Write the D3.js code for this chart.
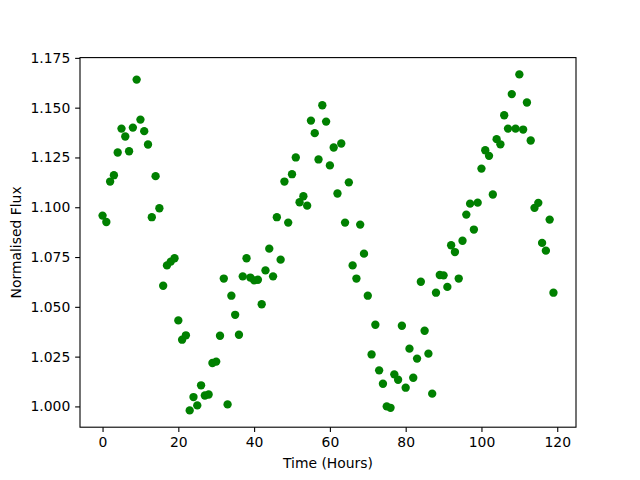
<!DOCTYPE html>
<html>
<head>
<meta charset="utf-8">
<script src="https://cdn.jsdelivr.net/npm/d3@7"></script>
<style>
  body { margin: 0; background: #fff; }
  text { font-family: "DejaVu Sans", sans-serif; }
</style>
</head>
<body>
<svg id="chart" width="640" height="480"></svg>
<script>
const hours = [
  0, 1, 2, 3, 4, 5, 6, 7, 8, 9, 10, 11, 12, 13, 14, 15, 16, 17, 18, 19,
  20, 21, 22, 23, 24, 25, 26, 27, 28, 29, 30, 31, 32, 33, 34, 35, 36, 37, 38, 39,
  40, 41, 42, 43, 44, 45, 46, 47, 48, 49, 50, 51, 52, 53, 54, 55, 56, 57, 58, 59,
  60, 61, 62, 63, 64, 65, 66, 67, 68, 69, 70, 71, 72, 73, 74, 75, 76, 77, 78, 79,
  80, 81, 82, 83, 84, 85, 86, 87, 88, 89, 90, 91, 92, 93, 94, 95, 96, 97, 98, 99,
  100, 101, 102, 103, 104, 105, 106, 107, 108, 109, 110, 111, 112, 113, 114, 115, 116, 117, 118, 119
];

const flux = [
  1.0958, 1.0926, 1.1129, 1.1161, 1.1275, 1.1395, 1.1355, 1.1281, 1.1400, 1.1641,
  1.1440, 1.1382, 1.1315, 1.0950, 1.1156, 1.0995, 1.0606, 1.0708, 1.0727, 1.0744,
  1.0432, 1.0335, 1.0357, 0.9980, 1.0047, 1.0005, 1.0106, 1.0055, 1.0060, 1.0218,
  1.0225, 1.0355, 1.0642, 1.0010, 1.0556, 1.0460, 1.0360, 1.0653, 1.0744, 1.0647,
  1.0633, 1.0636, 1.0513, 1.0683, 1.0792, 1.0653, 1.0950, 1.0737, 1.1129, 1.0923,
  1.1166, 1.1250, 1.1025, 1.1055, 1.1008, 1.1435, 1.1372, 1.1240, 1.1512, 1.1430,
  1.1210, 1.1300, 1.1069, 1.1320, 1.0923, 1.1125, 1.0708, 1.0642, 1.0913, 1.0767,
  1.0556, 1.0261, 1.0410, 1.0181, 1.0114, 1.0000, 0.9993, 1.0161, 1.0134, 1.0405,
  1.0094, 1.0290, 1.0144, 1.0240, 1.0626, 1.0380, 1.0265, 1.0064, 1.0571, 1.0660,
  1.0658, 1.0600, 1.0809, 1.0775, 1.0642, 1.0832, 1.0963, 1.1018, 1.0888, 1.1023,
  1.1194, 1.1286, 1.1258, 1.1064, 1.1342, 1.1316, 1.1462, 1.1395, 1.1568, 1.1395,
  1.1667, 1.1390, 1.1526, 1.1335, 1.0997, 1.1022, 1.0821, 1.0782, 1.0938, 1.0571
];

const xTicks = [0, 20, 40, 60, 80, 100, 120];
const yTicks = [1.000, 1.025, 1.050, 1.075, 1.100, 1.125, 1.150, 1.175];

const xLabel = 'Time (Hours)';
const yLabel = 'Normalised Flux';

const plot = {left: 80, right: 576, top: 57.6, bottom: 427.2};
const tickLen = 4.86;

const dataset = hours.map((x, i) => ({x: x, y: flux[i]}));

// matplotlib style 5% margins round the data
const pad = (lo, hi) => { const m = (hi - lo) * 0.05; return [lo - m, hi + m]; };
const xDomain = pad(d3.min(hours), d3.max(hours));
const yDomain = pad(d3.min(flux), d3.max(flux));

const xScale = d3.scaleLinear()
                 .domain(xDomain)
                 .range([plot.left, plot.right]);

const yScale = d3.scaleLinear()
                 .domain(yDomain)
                 .range([plot.bottom, plot.top]);

const svg = d3.select('#chart');

//Points
svg.append('g')
   .selectAll('circle')
   .data(dataset)
   .enter()
   .append('circle')
   .attr('cx', d => xScale(d.x))
   .attr('cy', d => yScale(d.y))
   .attr('r', 4.17)
   .attr('fill', '#008000');

//Frame
svg.append('rect')
   .attr('x', plot.left)
   .attr('y', plot.top)
   .attr('width', plot.right - plot.left)
   .attr('height', plot.bottom - plot.top)
   .attr('fill', 'none')
   .attr('stroke', '#000')
   .attr('stroke-width', 1.1);

//X axis
const xAxis = d3.axisBottom()
                .scale(xScale)
                .tickValues(xTicks)
                .tickSize(tickLen)
                .tickPadding(4.86)
                .tickFormat(d3.format('d'));

const gx = svg.append('g')
              .attr('transform', `translate(0,${plot.bottom})`)
              .call(xAxis);

//Y axis
const yAxis = d3.axisLeft()
                .scale(yScale)
                .tickValues(yTicks)
                .tickSize(tickLen)
                .tickPadding(4.86)
                .tickFormat(d3.format('.3f'));

const gy = svg.append('g')
              .attr('transform', `translate(${plot.left},0)`)
              .call(yAxis);

[gx, gy].forEach(g => {
  g.select('.domain').remove();
  g.selectAll('.tick line').attr('stroke', '#000').attr('stroke-width', 1.1);
  g.selectAll('.tick text')
   .attr('fill', '#000')
   .style('font-size', '13.9px')
   .style('font-family', '"DejaVu Sans", sans-serif');
});

//Labels
svg.append('text')
   .attr('x', (plot.left + plot.right) / 2)
   .attr('y', 468)
   .attr('text-anchor', 'middle')
   .style('font-size', '13.9px')
   .text(xLabel);

svg.append('text')
   .attr('transform', `translate(21,${(plot.top + plot.bottom) / 2}) rotate(-90)`)
   .attr('text-anchor', 'middle')
   .style('font-size', '13.9px')
   .text(yLabel);
</script>
</body>
</html>
